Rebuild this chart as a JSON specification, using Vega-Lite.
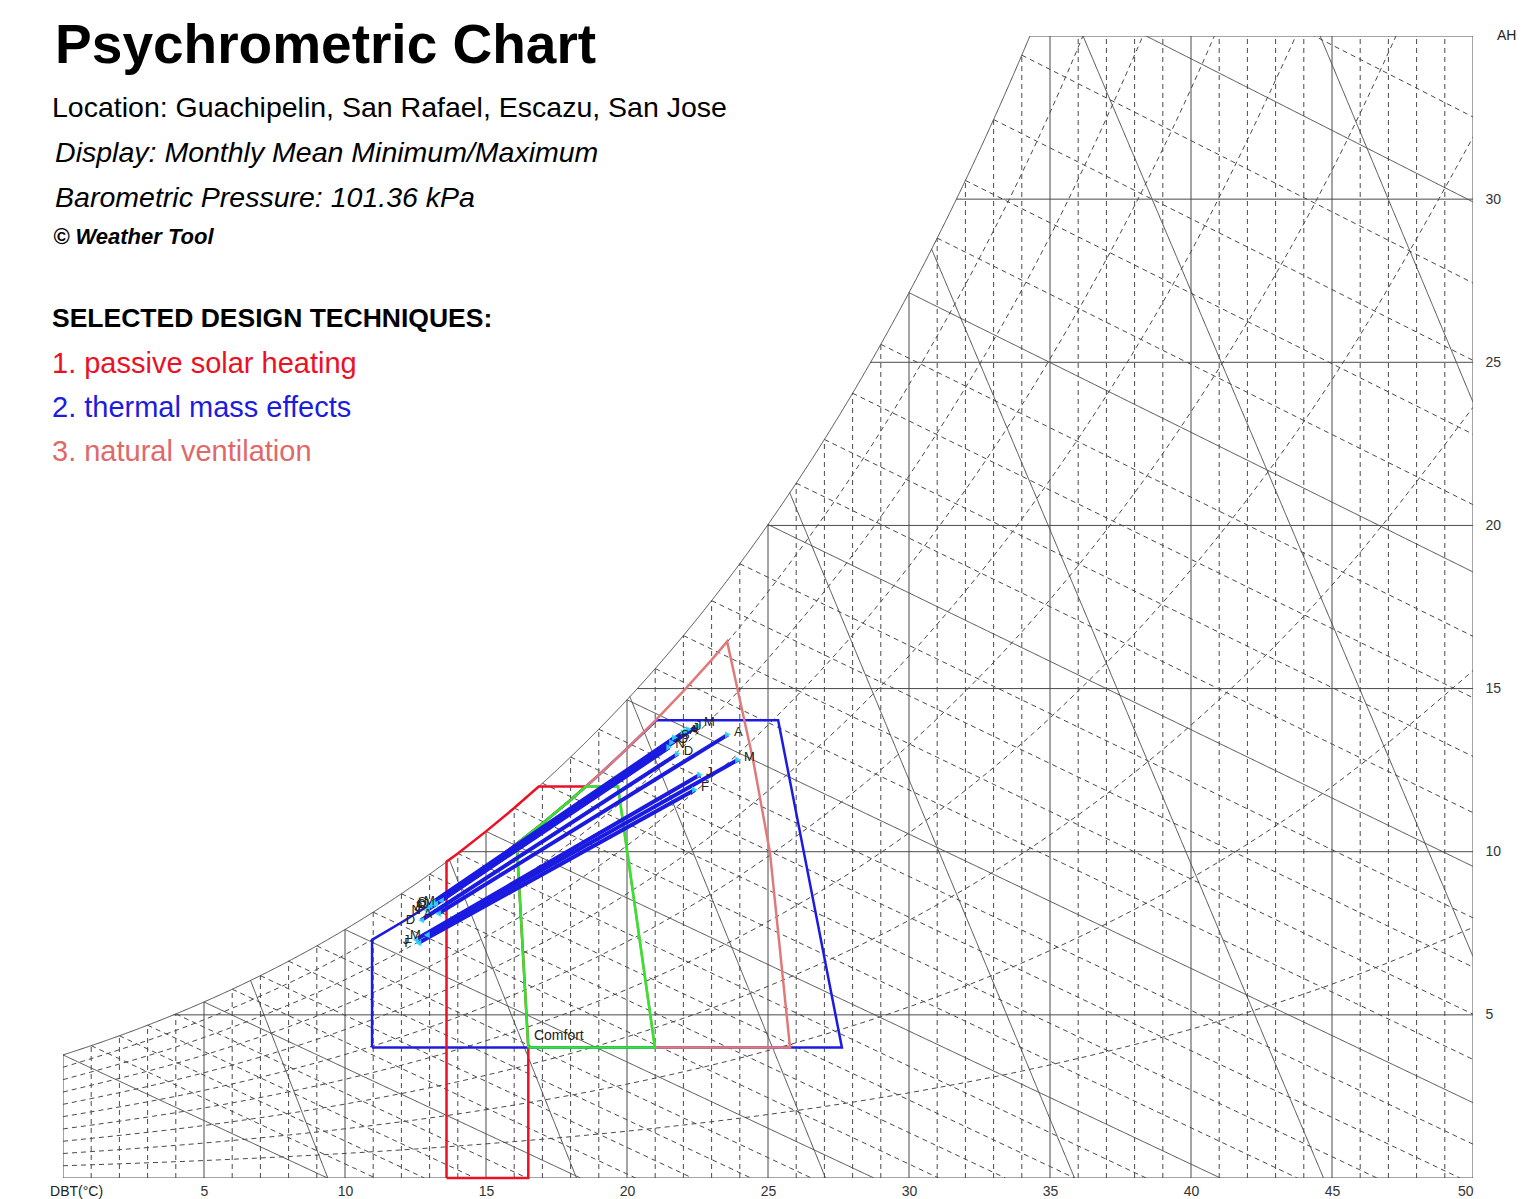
{
"$schema": "https://vega.github.io/schema/vega-lite/v6.json",
"width": 1410, "height": 1142,
"autosize": {"type": "none"},
"padding": {"left": 63, "top": 36, "right": 65, "bottom": 21},
"background": "white",
"config": {"view": {"stroke": null}, "font": "Liberation Sans"},
"datasets": {
"vgrid": [
{"T":0,"W":0,"W2":3.772,"kind":"solid"},{"T":1,"W":0,"W2":4.056,"kind":"dashed"},{"T":2,"W":0,"W2":4.359,"kind":"dashed"},{"T":3,"W":0,"W2":4.683,"kind":"dashed"},{"T":4,"W":0,"W2":5.028,"kind":"dashed"},{"T":5,"W":0,"W2":5.395,"kind":"solid"},{"T":6,"W":0,"W2":5.786,"kind":"dashed"},{"T":7,"W":0,"W2":6.202,"kind":"dashed"},{"T":8,"W":0,"W2":6.645,"kind":"dashed"},{"T":9,"W":0,"W2":7.115,"kind":"dashed"},{"T":10,"W":0,"W2":7.616,"kind":"solid"},{"T":11,"W":0,"W2":8.148,"kind":"dashed"},{"T":12,"W":0,"W2":8.712,"kind":"dashed"},{"T":13,"W":0,"W2":9.311,"kind":"dashed"},{"T":14,"W":0,"W2":9.948,"kind":"dashed"},{"T":15,"W":0,"W2":10.623,"kind":"solid"},{"T":16,"W":0,"W2":11.339,"kind":"dashed"},{"T":17,"W":0,"W2":12.097,"kind":"dashed"},{"T":18,"W":0,"W2":12.902,"kind":"dashed"},{"T":19,"W":0,"W2":13.754,"kind":"dashed"},{"T":20,"W":0,"W2":14.656,"kind":"solid"},{"T":21,"W":0,"W2":15.612,"kind":"dashed"},{"T":22,"W":0,"W2":16.624,"kind":"dashed"},{"T":23,"W":0,"W2":17.695,"kind":"dashed"},{"T":24,"W":0,"W2":18.828,"kind":"dashed"},{"T":25,"W":0,"W2":20.027,"kind":"solid"},{"T":26,"W":0,"W2":21.295,"kind":"dashed"},{"T":27,"W":0,"W2":22.635,"kind":"dashed"},{"T":28,"W":0,"W2":24.052,"kind":"dashed"},{"T":29,"W":0,"W2":25.55,"kind":"dashed"},{"T":30,"W":0,"W2":27.134,"kind":"solid"},{"T":31,"W":0,"W2":28.806,"kind":"dashed"},{"T":32,"W":0,"W2":30.573,"kind":"dashed"},{"T":33,"W":0,"W2":32.44,"kind":"dashed"},{"T":34,"W":0,"W2":34.412,"kind":"dashed"},{"T":35,"W":0,"W2":35,"kind":"solid"},{"T":36,"W":0,"W2":35,"kind":"dashed"},{"T":37,"W":0,"W2":35,"kind":"dashed"},{"T":38,"W":0,"W2":35,"kind":"dashed"},{"T":39,"W":0,"W2":35,"kind":"dashed"},{"T":40,"W":0,"W2":35,"kind":"solid"},{"T":41,"W":0,"W2":35,"kind":"dashed"},{"T":42,"W":0,"W2":35,"kind":"dashed"},{"T":43,"W":0,"W2":35,"kind":"dashed"},{"T":44,"W":0,"W2":35,"kind":"dashed"},{"T":45,"W":0,"W2":35,"kind":"solid"},{"T":46,"W":0,"W2":35,"kind":"dashed"},{"T":47,"W":0,"W2":35,"kind":"dashed"},{"T":48,"W":0,"W2":35,"kind":"dashed"},{"T":49,"W":0,"W2":35,"kind":"dashed"},{"T":50,"W":0,"W2":35,"kind":"solid"}
],
"hgrid": [
{"W":0,"T":0,"T2":50,"kind":"solid"},{"W":5,"T":3.92,"T2":50,"kind":"solid"},{"W":10,"T":14.08,"T2":50,"kind":"solid"},{"W":15,"T":20.36,"T2":50,"kind":"solid"},{"W":20,"T":24.98,"T2":50,"kind":"solid"},{"W":25,"T":28.63,"T2":50,"kind":"solid"},{"W":30,"T":31.68,"T2":50,"kind":"solid"},{"W":35,"T":34.28,"T2":50,"kind":"solid"}
],
"diag": [
{"T":0,"W":3.772,"T2":9.378,"W2":0,"kind":"solid"},
{"T":1,"W":4.056,"T2":11.075,"W2":0,"kind":"dashed"},
{"T":2,"W":4.359,"T2":12.817,"W2":0,"kind":"dashed"},
{"T":3,"W":4.683,"T2":14.61,"W2":0,"kind":"dashed"},
{"T":4,"W":5.028,"T2":16.453,"W2":0,"kind":"dashed"},
{"T":5,"W":5.395,"T2":18.35,"W2":0,"kind":"solid"},
{"T":6,"W":5.786,"T2":20.304,"W2":0,"kind":"dashed"},
{"T":7,"W":6.202,"T2":22.318,"W2":0,"kind":"dashed"},
{"T":8,"W":6.645,"T2":24.397,"W2":0,"kind":"dashed"},
{"T":9,"W":7.115,"T2":26.541,"W2":0,"kind":"dashed"},
{"T":10,"W":7.616,"T2":28.758,"W2":0,"kind":"solid"},
{"T":11,"W":8.148,"T2":31.05,"W2":0,"kind":"dashed"},
{"T":12,"W":8.712,"T2":33.417,"W2":0,"kind":"dashed"},
{"T":13,"W":9.311,"T2":35.868,"W2":0,"kind":"dashed"},
{"T":14,"W":9.948,"T2":38.41,"W2":0,"kind":"dashed"},
{"T":15,"W":10.623,"T2":41.041,"W2":0,"kind":"solid"},
{"T":16,"W":11.339,"T2":43.77,"W2":0,"kind":"dashed"},
{"T":17,"W":12.097,"T2":46.598,"W2":0,"kind":"dashed"},
{"T":18,"W":12.902,"T2":49.539,"W2":0,"kind":"dashed"},
{"T":19,"W":13.754,"T2":50,"W2":1.036,"kind":"dashed"},
{"T":20,"W":14.656,"T2":50,"W2":2.308,"kind":"solid"},
{"T":21,"W":15.612,"T2":50,"W2":3.635,"kind":"dashed"},
{"T":22,"W":16.624,"T2":50,"W2":5.019,"kind":"dashed"},
{"T":23,"W":17.695,"T2":50,"W2":6.465,"kind":"dashed"},
{"T":24,"W":18.828,"T2":50,"W2":7.973,"kind":"dashed"},
{"T":25,"W":20.027,"T2":50,"W2":9.55,"kind":"solid"},
{"T":26,"W":21.295,"T2":50,"W2":11.197,"kind":"dashed"},
{"T":27,"W":22.635,"T2":50,"W2":12.919,"kind":"dashed"},
{"T":28,"W":24.052,"T2":50,"W2":14.719,"kind":"dashed"},
{"T":29,"W":25.55,"T2":50,"W2":16.602,"kind":"dashed"},
{"T":30,"W":27.134,"T2":50,"W2":18.574,"kind":"solid"},
{"T":31,"W":28.806,"T2":50,"W2":20.637,"kind":"dashed"},
{"T":32,"W":30.573,"T2":50,"W2":22.796,"kind":"dashed"},
{"T":33,"W":32.44,"T2":50,"W2":25.058,"kind":"dashed"},
{"T":34,"W":34.412,"T2":50,"W2":27.429,"kind":"dashed"},
{"T":35,"W":36.496,"T2":50,"W2":29.914,"kind":"solid"},
{"T":36,"W":38.695,"T2":50,"W2":32.518,"kind":"dashed"},
{"T":6.65,"W":6.056,"T2":9.39,"W2":0,"kind":"solid"},
{"T":13.7,"W":9.757,"T2":18.21,"W2":0,"kind":"solid"},
{"T":20.1,"W":14.752,"T2":27.04,"W2":0,"kind":"solid"},
{"T":25.77,"W":21.003,"T2":35.87,"W2":0,"kind":"solid"},
{"T":30.8,"W":28.472,"T2":44.7,"W2":0,"kind":"solid"},
{"T":35.21,"W":36.96,"T2":50,"W2":6.79,"kind":"solid"},
{"T":39.1,"W":46.34,"T2":50,"W2":23.78,"kind":"solid"}
],
"curves": [
{"id":"sat","kind":"solid","T":0,"W":3.772},{"id":"sat","kind":"solid","T":1,"W":4.056},{"id":"sat","kind":"solid","T":2,"W":4.359},{"id":"sat","kind":"solid","T":3,"W":4.683},{"id":"sat","kind":"solid","T":4,"W":5.028},{"id":"sat","kind":"solid","T":5,"W":5.395},{"id":"sat","kind":"solid","T":6,"W":5.786},{"id":"sat","kind":"solid","T":7,"W":6.202},{"id":"sat","kind":"solid","T":8,"W":6.645},{"id":"sat","kind":"solid","T":9,"W":7.115},{"id":"sat","kind":"solid","T":10,"W":7.616},{"id":"sat","kind":"solid","T":11,"W":8.148},{"id":"sat","kind":"solid","T":12,"W":8.712},{"id":"sat","kind":"solid","T":13,"W":9.311},{"id":"sat","kind":"solid","T":14,"W":9.948},{"id":"sat","kind":"solid","T":15,"W":10.623},{"id":"sat","kind":"solid","T":16,"W":11.339},{"id":"sat","kind":"solid","T":17,"W":12.097},{"id":"sat","kind":"solid","T":18,"W":12.902},{"id":"sat","kind":"solid","T":19,"W":13.754},{"id":"sat","kind":"solid","T":20,"W":14.656},{"id":"sat","kind":"solid","T":21,"W":15.612},{"id":"sat","kind":"solid","T":22,"W":16.624},{"id":"sat","kind":"solid","T":23,"W":17.695},{"id":"sat","kind":"solid","T":24,"W":18.828},{"id":"sat","kind":"solid","T":25,"W":20.027},{"id":"sat","kind":"solid","T":26,"W":21.295},{"id":"sat","kind":"solid","T":27,"W":22.635},{"id":"sat","kind":"solid","T":28,"W":24.052},{"id":"sat","kind":"solid","T":29,"W":25.55},{"id":"sat","kind":"solid","T":30,"W":27.134},{"id":"sat","kind":"solid","T":31,"W":28.806},{"id":"sat","kind":"solid","T":32,"W":30.573},{"id":"sat","kind":"solid","T":33,"W":32.44},{"id":"sat","kind":"solid","T":34,"W":34.412},{"id":"sat","kind":"solid","T":35,"W":36.496},
{"id":"rh10","kind":"dashed","T":0,"W":0.3751},{"id":"rh10","kind":"dashed","T":5,"W":0.5353},{"id":"rh10","kind":"dashed","T":10,"W":0.7533},{"id":"rh10","kind":"dashed","T":15,"W":1.0462},{"id":"rh10","kind":"dashed","T":20,"W":1.4352},{"id":"rh10","kind":"dashed","T":25,"W":1.9463},{"id":"rh10","kind":"dashed","T":30,"W":2.6109},{"id":"rh10","kind":"dashed","T":35,"W":3.4664},{"id":"rh10","kind":"dashed","T":40,"W":4.559},{"id":"rh10","kind":"dashed","T":45,"W":5.9415},{"id":"rh10","kind":"dashed","T":50,"W":7.6791},
{"id":"rh20","kind":"dashed","T":0,"W":0.7507},{"id":"rh20","kind":"dashed","T":5,"W":1.0715},{"id":"rh20","kind":"dashed","T":10,"W":1.5084},{"id":"rh20","kind":"dashed","T":15,"W":2.0959},{"id":"rh20","kind":"dashed","T":20,"W":2.8771},{"id":"rh20","kind":"dashed","T":25,"W":3.9048},{"id":"rh20","kind":"dashed","T":30,"W":5.2436},{"id":"rh20","kind":"dashed","T":35,"W":6.9718},{"id":"rh20","kind":"dashed","T":40,"W":9.1851},{"id":"rh20","kind":"dashed","T":45,"W":11.9976},{"id":"rh20","kind":"dashed","T":50,"W":15.5501},
{"id":"rh30","kind":"dashed","T":0,"W":1.1267},{"id":"rh30","kind":"dashed","T":5,"W":1.6087},{"id":"rh30","kind":"dashed","T":10,"W":2.2653},{"id":"rh30","kind":"dashed","T":15,"W":3.1493},{"id":"rh30","kind":"dashed","T":20,"W":4.3256},{"id":"rh30","kind":"dashed","T":25,"W":5.8757},{"id":"rh30","kind":"dashed","T":30,"W":7.8988},{"id":"rh30","kind":"dashed","T":35,"W":10.5166},{"id":"rh30","kind":"dashed","T":40,"W":13.8802},{"id":"rh30","kind":"dashed","T":45,"W":18.1716},{"id":"rh30","kind":"dashed","T":50,"W":23.6202},
{"id":"rh40","kind":"dashed","T":0,"W":1.5033},{"id":"rh40","kind":"dashed","T":5,"W":2.1468},{"id":"rh40","kind":"dashed","T":10,"W":3.0241},{"id":"rh40","kind":"dashed","T":15,"W":4.2061},{"id":"rh40","kind":"dashed","T":20,"W":5.7808},{"id":"rh40","kind":"dashed","T":25,"W":7.859},{"id":"rh40","kind":"dashed","T":30,"W":10.5765},{"id":"rh40","kind":"dashed","T":35,"W":14.1017},{"id":"rh40","kind":"dashed","T":40,"W":18.6456},{"id":"rh40","kind":"dashed","T":45,"W":24.467},{"id":"rh40","kind":"dashed","T":50,"W":31.8975},
{"id":"rh50","kind":"dashed","T":0,"W":1.8802},{"id":"rh50","kind":"dashed","T":5,"W":2.6858},{"id":"rh50","kind":"dashed","T":10,"W":3.7847},{"id":"rh50","kind":"dashed","T":15,"W":5.2665},{"id":"rh50","kind":"dashed","T":20,"W":7.2429},{"id":"rh50","kind":"dashed","T":25,"W":9.8549},{"id":"rh50","kind":"dashed","T":30,"W":13.277},{"id":"rh50","kind":"dashed","T":35,"W":17.7276},{"id":"rh50","kind":"dashed","T":40,"W":23.483},{"id":"rh50","kind":"dashed","T":45,"W":30.8874},{"id":"rh50","kind":"dashed","T":50,"W":40.39},
{"id":"rh60","kind":"dashed","T":0,"W":2.2576},{"id":"rh60","kind":"dashed","T":5,"W":3.2257},{"id":"rh60","kind":"dashed","T":10,"W":4.5472},{"id":"rh60","kind":"dashed","T":15,"W":6.3305},{"id":"rh60","kind":"dashed","T":20,"W":8.7117},{"id":"rh60","kind":"dashed","T":25,"W":11.8634},{"id":"rh60","kind":"dashed","T":30,"W":16.0007},{"id":"rh60","kind":"dashed","T":35,"W":21.3951},{"id":"rh60","kind":"dashed","T":40,"W":28.394},{"id":"rh60","kind":"dashed","T":45,"W":37.437},
{"id":"rh70","kind":"dashed","T":0,"W":2.6355},{"id":"rh70","kind":"dashed","T":5,"W":3.7666},{"id":"rh70","kind":"dashed","T":10,"W":5.3116},{"id":"rh70","kind":"dashed","T":15,"W":7.3981},{"id":"rh70","kind":"dashed","T":20,"W":10.1874},{"id":"rh70","kind":"dashed","T":25,"W":13.8848},{"id":"rh70","kind":"dashed","T":30,"W":18.748},{"id":"rh70","kind":"dashed","T":35,"W":25.1046},{"id":"rh70","kind":"dashed","T":40,"W":33.3806},{"id":"rh70","kind":"dashed","T":45,"W":44.12},
{"id":"rh80","kind":"dashed","T":0,"W":3.0138},{"id":"rh80","kind":"dashed","T":5,"W":4.3084},{"id":"rh80","kind":"dashed","T":10,"W":6.0778},{"id":"rh80","kind":"dashed","T":15,"W":8.4694},{"id":"rh80","kind":"dashed","T":20,"W":11.6702},{"id":"rh80","kind":"dashed","T":25,"W":15.919},{"id":"rh80","kind":"dashed","T":30,"W":21.5188},{"id":"rh80","kind":"dashed","T":35,"W":28.8575},{"id":"rh80","kind":"dashed","T":40,"W":38.444},
{"id":"rh90","kind":"dashed","T":0,"W":3.3926},{"id":"rh90","kind":"dashed","T":5,"W":4.8511},{"id":"rh90","kind":"dashed","T":10,"W":6.8458},{"id":"rh90","kind":"dashed","T":15,"W":9.5443},{"id":"rh90","kind":"dashed","T":20,"W":13.1597},{"id":"rh90","kind":"dashed","T":25,"W":17.9665},{"id":"rh90","kind":"dashed","T":30,"W":24.3138},{"id":"rh90","kind":"dashed","T":35,"W":32.6542},{"id":"rh90","kind":"dashed","T":40,"W":43.586}
],
"zones": [
{"zone":"heating","seq":1,"T":13.6,"W":0},{"zone":"heating","seq":2,"T":13.6,"W":9.693},{"zone":"heating","seq":3,"T":14,"W":9.948},{"zone":"heating","seq":4,"T":15,"W":10.623},{"zone":"heating","seq":5,"T":16,"W":11.339},{"zone":"heating","seq":6,"T":16.87,"W":12.0},{"zone":"heating","seq":7,"T":18.54,"W":12.0},{"zone":"heating","seq":8,"T":18,"W":11.587},{"zone":"heating","seq":9,"T":17,"W":10.867},{"zone":"heating","seq":10,"T":16.09,"W":10.25},{"zone":"heating","seq":11,"T":16.5,"W":4.0},{"zone":"heating","seq":12,"T":16.5,"W":0},{"zone":"heating","seq":13,"T":13.6,"W":0},
{"zone":"mass","seq":1,"T":10.96,"W":4.0},{"zone":"mass","seq":2,"T":27.62,"W":4.0},{"zone":"mass","seq":3,"T":25.36,"W":14.03},{"zone":"mass","seq":4,"T":21.05,"W":14.03},{"zone":"mass","seq":5,"T":20,"W":13.16},{"zone":"mass","seq":6,"T":19,"W":12.351},{"zone":"mass","seq":7,"T":18,"W":11.587},{"zone":"mass","seq":8,"T":17,"W":10.867},{"zone":"mass","seq":9,"T":16,"W":10.186},{"zone":"mass","seq":10,"T":15,"W":9.544},{"zone":"mass","seq":11,"T":14,"W":8.939},{"zone":"mass","seq":12,"T":13,"W":8.368},{"zone":"mass","seq":13,"T":12,"W":7.83},{"zone":"mass","seq":14,"T":10.96,"W":7.3},{"zone":"mass","seq":15,"T":10.96,"W":4.0},
{"zone":"vent","seq":1,"T":20.99,"W":4.0},{"zone":"vent","seq":2,"T":25.78,"W":4.0},{"zone":"vent","seq":3,"T":25.07,"W":9.97},{"zone":"vent","seq":4,"T":24.47,"W":12.82},{"zone":"vent","seq":5,"T":24.0,"W":14.66},{"zone":"vent","seq":6,"T":23.55,"W":16.44},{"zone":"vent","seq":7,"T":23,"W":15.88},{"zone":"vent","seq":8,"T":22,"W":14.922},{"zone":"vent","seq":9,"T":21,"W":14.016},{"zone":"vent","seq":10,"T":20,"W":13.16},{"zone":"vent","seq":11,"T":19,"W":12.351},{"zone":"vent","seq":12,"T":18.54,"W":12.0},{"zone":"vent","seq":13,"T":19.68,"W":12.0},{"zone":"vent","seq":14,"T":20.99,"W":4.0},
{"zone":"comfort","seq":1,"T":16.5,"W":4.0},{"zone":"comfort","seq":2,"T":16.09,"W":10.25},{"zone":"comfort","seq":3,"T":17,"W":10.867},{"zone":"comfort","seq":4,"T":18,"W":11.587},{"zone":"comfort","seq":5,"T":18.54,"W":12.0},{"zone":"comfort","seq":6,"T":19.68,"W":12.0},{"zone":"comfort","seq":7,"T":20.99,"W":4.0},{"zone":"comfort","seq":8,"T":16.5,"W":4.0}
],
"months": [
{"m":"J","T":12.5,"W":7.3,"T2":22.59,"W2":12.36},
{"m":"F","T":12.6,"W":7.2,"T2":22.41,"W2":11.9},
{"m":"M","T":12.9,"W":7.45,"T2":23.94,"W2":12.82},
{"m":"A","T":13.3,"W":8.1,"T2":23.58,"W2":13.59},
{"m":"M","T":13.4,"W":8.5,"T2":22.52,"W2":13.87},
{"m":"J","T":13.2,"W":8.4,"T2":22.1,"W2":13.7},
{"m":"J","T":12.9,"W":8.3,"T2":22.2,"W2":13.75},
{"m":"A","T":13.0,"W":8.35,"T2":22.0,"W2":13.65},
{"m":"S","T":13.1,"W":8.45,"T2":21.7,"W2":13.5},
{"m":"O","T":13.1,"W":8.4,"T2":21.6,"W2":13.35},
{"m":"N","T":12.9,"W":8.2,"T2":21.5,"W2":13.2},
{"m":"D","T":12.7,"W":7.9,"T2":21.8,"W2":13.0}
],
"texts": [
{"T":-0.28,"W":34.69,"txt":"Psychrometric Chart","style":"title"},
{"T":-0.39,"W":32.78,"txt":"Location: Guachipelin, San Rafael, Escazu, San Jose","style":"plain"},
{"T":-0.28,"W":31.4,"txt":"Display: Monthly Mean Minimum/Maximum","style":"italic"},
{"T":-0.28,"W":30.05,"txt":"Barometric Pressure: 101.36 kPa","style":"italic"},
{"T":-0.35,"W":28.85,"txt":"© Weather Tool","style":"credit"},
{"T":-0.39,"W":26.33,"txt":"SELECTED DESIGN TECHNIQUES:","style":"head"}
],
"techniques": [
{"T":-0.39,"W":24.95,"txt":"1. passive solar heating","technique":"heating"},
{"T":-0.39,"W":23.6,"txt":"2. thermal mass effects","technique":"mass"},
{"T":-0.39,"W":22.25,"txt":"3. natural ventilation","technique":"vent"}
],
"labels": [
{"T":50.85,"W":35.0,"txt":"AH"},
{"T":-0.46,"W":-0.43,"txt":"DBT(°C)"},
{"T":16.7,"W":4.35,"txt":"Comfort"}
]
},
"encoding": {
"x": {"field": "T", "type": "quantitative", "scale": {"domain": [0, 50], "nice": false, "zero": false},
 "axis": {"values": [5,10,15,20,25,30,35,40,45,50], "title": null, "grid": false, "ticks": false, "domain": false, "labelFontSize": 14, "labelColor": "#333", "labelPadding": 6, "labelFont": "Liberation Sans"}},
"y": {"field": "W", "type": "quantitative", "scale": {"domain": [0, 35], "nice": false, "zero": false},
 "axis": {"orient": "right", "values": [5,10,15,20,25,30], "title": null, "grid": false, "ticks": false, "domain": false, "labelFontSize": 14, "labelColor": "#333", "labelPadding": 12, "labelFont": "Liberation Sans"}}
},
"layer": [
{"data": {"name": "vgrid"}, "mark": {"type": "rule", "clip": true, "color": "#4a4a4a", "strokeWidth": 1},
 "encoding": {"y2": {"field": "W2"}, "strokeDash": {"field": "kind", "type": "nominal", "scale": {"domain": ["solid","dashed"], "range": [[1,0],[5,4]]}, "legend": null}}},
{"data": {"name": "hgrid"}, "mark": {"type": "rule", "clip": true, "color": "#4a4a4a", "strokeWidth": 1},
 "encoding": {"x2": {"field": "T2"}}},
{"data": {"name": "diag"}, "mark": {"type": "rule", "clip": true, "color": "#4a4a4a", "strokeWidth": 1},
 "encoding": {"x2": {"field": "T2"}, "y2": {"field": "W2"}, "strokeDash": {"field": "kind", "type": "nominal", "scale": {"domain": ["solid","dashed"], "range": [[1,0],[5,4]]}, "legend": null}}},
{"data": {"name": "curves"}, "mark": {"type": "line", "clip": true, "color": "#4a4a4a", "strokeWidth": 1, "interpolate": "monotone"},
 "encoding": {"detail": {"field": "id"}, "strokeDash": {"field": "kind", "type": "nominal", "scale": {"domain": ["solid","dashed"], "range": [[1,0],[5,4]]}, "legend": null}}},
{"data": {"name": "zones"}, "transform": [{"filter": "datum.zone === 'mass'"}], "mark": {"type": "line", "color": "#1c1ce0", "strokeWidth": 2.5},
 "encoding": {"order": {"field": "seq"}}},
{"data": {"name": "zones"}, "transform": [{"filter": "datum.zone === 'heating'"}], "mark": {"type": "line", "color": "#ec1024", "strokeWidth": 2.5},
 "encoding": {"order": {"field": "seq"}}},
{"data": {"name": "zones"}, "transform": [{"filter": "datum.zone === 'vent'"}], "mark": {"type": "line", "color": "#e07a7a", "strokeWidth": 2.5},
 "encoding": {"order": {"field": "seq"}}},
{"data": {"name": "zones"}, "transform": [{"filter": "datum.zone === 'comfort'"}], "mark": {"type": "line", "color": "#2ee82e", "strokeWidth": 2.5},
 "encoding": {"order": {"field": "seq"}}},
{"data": {"name": "months"}, "mark": {"type": "rule", "color": "#1a1ae0", "strokeWidth": 4},
 "encoding": {"x2": {"field": "T2"}, "y2": {"field": "W2"}}},
{"data": {"name": "months"}, "mark": {"type": "point", "filled": true, "color": "#30d8ff", "size": 45, "shape": "triangle-left", "opacity": 0.9}},
{"data": {"name": "months"}, "mark": {"type": "point", "filled": true, "color": "#30d8ff", "size": 45, "shape": "triangle-right", "opacity": 0.9},
 "encoding": {"x": {"field": "T2", "type": "quantitative"}, "y": {"field": "W2", "type": "quantitative"}}},
{"data": {"name": "months"}, "mark": {"type": "text", "align": "right", "baseline": "middle", "dx": -6, "fontSize": 13, "color": "#222"},
 "encoding": {"text": {"field": "m"}}},
{"data": {"name": "months"}, "mark": {"type": "text", "align": "left", "baseline": "middle", "dx": 6, "dy": -3, "fontSize": 13, "color": "#222"},
 "encoding": {"x": {"field": "T2", "type": "quantitative"}, "y": {"field": "W2", "type": "quantitative"}, "text": {"field": "m"}}},
{"data": {"name": "texts"}, "transform": [{"filter": "datum.style === 'title'"}], "mark": {"type": "text", "align": "left", "baseline": "middle", "fontSize": 55, "fontWeight": "bold", "color": "#000"},
 "encoding": {"text": {"field": "txt"}}},
{"data": {"name": "texts"}, "transform": [{"filter": "datum.style === 'plain'"}], "mark": {"type": "text", "align": "left", "baseline": "middle", "fontSize": 28.5, "color": "#000"},
 "encoding": {"text": {"field": "txt"}}},
{"data": {"name": "texts"}, "transform": [{"filter": "datum.style === 'italic'"}], "mark": {"type": "text", "align": "left", "baseline": "middle", "fontSize": 28.5, "fontStyle": "italic", "color": "#000"},
 "encoding": {"text": {"field": "txt"}}},
{"data": {"name": "texts"}, "transform": [{"filter": "datum.style === 'credit'"}], "mark": {"type": "text", "align": "left", "baseline": "middle", "fontSize": 22, "fontStyle": "italic", "fontWeight": "bold", "color": "#000"},
 "encoding": {"text": {"field": "txt"}}},
{"data": {"name": "texts"}, "transform": [{"filter": "datum.style === 'head'"}], "mark": {"type": "text", "align": "left", "baseline": "middle", "fontSize": 26.5, "fontWeight": "bold", "color": "#000"},
 "encoding": {"text": {"field": "txt"}}},
{"data": {"name": "techniques"}, "mark": {"type": "text", "align": "left", "baseline": "middle", "fontSize": 29},
 "encoding": {"text": {"field": "txt"}, "color": {"field": "technique", "type": "nominal", "scale": {"domain": ["heating","mass","vent"], "range": ["#ec1024","#1c1ce0","#e06868"]}, "legend": null}}},
{"data": {"name": "labels"}, "mark": {"type": "text", "align": "left", "baseline": "middle", "fontSize": 14, "color": "#222"},
 "encoding": {"text": {"field": "txt"}}}
]
}
